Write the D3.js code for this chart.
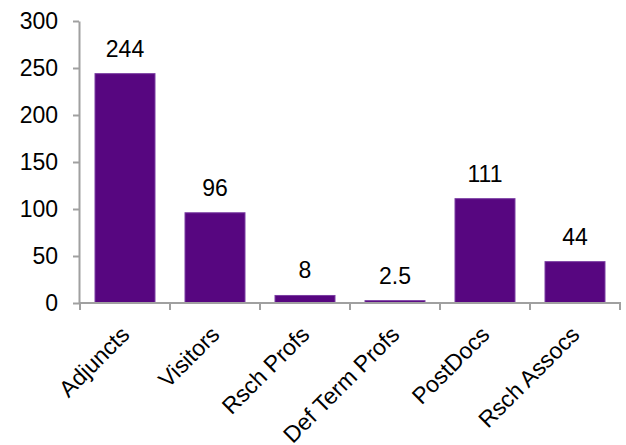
<!DOCTYPE html>
<html>
<head>
<meta charset="utf-8">
<script src="https://cdn.jsdelivr.net/npm/d3@7"></script>
<style>
  html, body { margin: 0; padding: 0; background: #fff; }
  svg { display: block; font-family: "Liberation Sans", Arial, sans-serif; }
</style>
</head>
<body>
<svg id="chart" width="626" height="445"></svg>
<script>
// Staff counts by appointment type
const categories = ["Adjuncts", "Visitors", "Rsch Profs", "Def Term Profs", "PostDocs", "Rsch Assocs"];
const counts = [244, 96, 8, 2.5, 111, 44];
const yTicks = [0, 50, 100, 150, 200, 250, 300];

(function draw() {
  const svg = d3.select("#chart");
  const plotLeft = 80, plotRight = 620, plotTop = 21, plotBottom = 303;
  const axisColor = "#a0a0a0";
  const fontSize = 23;
  const fontFamily = "'Liberation Sans', Arial, sans-serif";

  const x = d3.scaleBand()
    .domain(categories)
    .range([plotLeft, plotRight])
    .paddingInner(1 / 3)
    .paddingOuter(1 / 6);

  const y = d3.scaleLinear().domain([0, 300]).range([plotBottom, plotTop]);

  // Y axis
  const yAxis = svg.append("g")
    .attr("transform", `translate(${plotLeft - 1},0)`)
    .call(d3.axisLeft(y).tickValues(yTicks).tickSize(6).tickSizeOuter(0).tickPadding(15));
  yAxis.select(".domain").attr("stroke", axisColor).attr("stroke-width", 2);
  yAxis.selectAll(".tick line").attr("stroke", axisColor).attr("stroke-width", 2);
  yAxis.selectAll(".tick text")
    .attr("fill", "#000")
    .style("font-size", fontSize + "px")
    .style("font-family", fontFamily);

  // Bars
  svg.append("g")
    .selectAll("rect")
    .data(categories)
    .join("rect")
    .attr("x", d => x(d))
    .attr("width", x.bandwidth())
    .attr("y", (d, i) => y(counts[i]))
    .attr("height", (d, i) => plotBottom - y(counts[i]))
    .attr("fill", "#570680")
    .attr("stroke", "#7c3fa3")
    .attr("stroke-width", 1);

  // Value labels
  svg.append("g")
    .selectAll("text")
    .data(categories)
    .join("text")
    .attr("x", d => x(d) + x.bandwidth() / 2)
    .attr("y", (d, i) => y(counts[i]) - 17)
    .attr("text-anchor", "middle")
    .style("font-size", fontSize + "px")
    .attr("fill", "#000")
    .text((d, i) => counts[i]);

  // X axis with ticks between categories
  const xAxisG = svg.append("g");
  xAxisG.append("line")
    .attr("x1", plotLeft - 1).attr("x2", plotRight + 1)
    .attr("y1", plotBottom).attr("y2", plotBottom)
    .attr("stroke", axisColor).attr("stroke-width", 2);
  const boundaries = categories.map(d => x(d) - x.step() * x.paddingInner() / 2)
    .concat([plotRight]);
  boundaries[0] = plotLeft;
  xAxisG.selectAll("line.sep")
    .data(boundaries)
    .join("line")
    .attr("class", "sep")
    .attr("x1", d => d).attr("x2", d => d)
    .attr("y1", plotBottom).attr("y2", plotBottom + 7)
    .attr("stroke", axisColor).attr("stroke-width", 2);

  // Rotated category labels
  xAxisG.selectAll("text")
    .data(categories)
    .join("text")
    .attr("transform", d => `translate(${x(d) + x.bandwidth() / 2 + 6},${plotBottom + 33}) rotate(-45)`)
    .attr("text-anchor", "end")
    .style("font-size", fontSize + "px")
    .attr("fill", "#000")
    .text(d => d);
})();
</script>
</body>
</html>
